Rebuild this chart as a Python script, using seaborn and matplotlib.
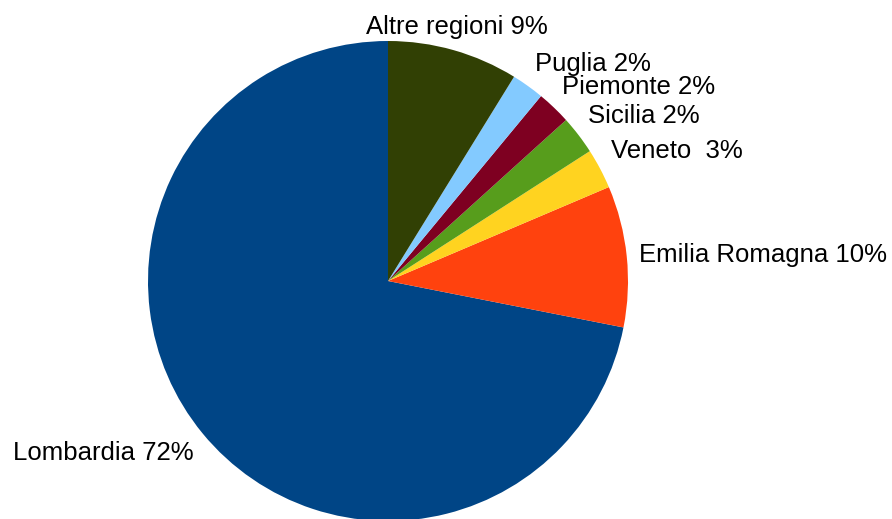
import numpy as np
import matplotlib
matplotlib.use("Agg")
import matplotlib.pyplot as plt
import seaborn as sns

# ── dati ─────────────────────────────────────────────
regioni = ["Lombardia", "Emilia Romagna", "Veneto ", "Sicilia", "Piemonte", "Puglia", "Altre regioni"]
valori = [71.9, 9.5, 2.7, 2.6, 2.3, 2.2, 8.8]
percentuali = [72, 10, 3, 2, 2, 2, 9]
colori = ["#004586", "#ff420e", "#ffd320", "#579d1c", "#7e0021", "#83caff", "#314004"]

sns.set_style("white")
plt.rcParams["font.family"] = ["Liberation Sans", "DejaVu Sans"]

fig = plt.figure(figsize=(8.92, 5.19), dpi=100)
# pie centrata a (388, 281) px, raggio 240 px
ax = fig.add_axes([148 / 892, -2 / 519, 480 / 892, 480 / 519])

wedges, _ = ax.pie(valori, colors=colori, startangle=90, counterclock=True,
                   radius=1.0, wedgeprops=dict(linewidth=0))
ax.set_xlim(-1, 1)
ax.set_ylim(-1, 1)
ax.axis("off")

# etichette fuori dalla torta, allineate come in LibreOffice
for w, nome, p in zip(wedges, regioni, percentuali):
    ang = np.deg2rad((w.theta1 + w.theta2) / 2)
    dx, dy = np.cos(ang), np.sin(ang)
    ha = "center" if abs(dx) < 0.3 else ("left" if dx > 0 else "right")
    va = "center" if abs(dy) < 0.3 else ("bottom" if dy > 0 else "top")
    ax.text(1.05 * dx, 1.05 * dy, f"{nome} {p}%", ha=ha, va=va,
            fontsize=18.5, color="#000000", clip_on=False)

fig.savefig("out.png", dpi=100)
